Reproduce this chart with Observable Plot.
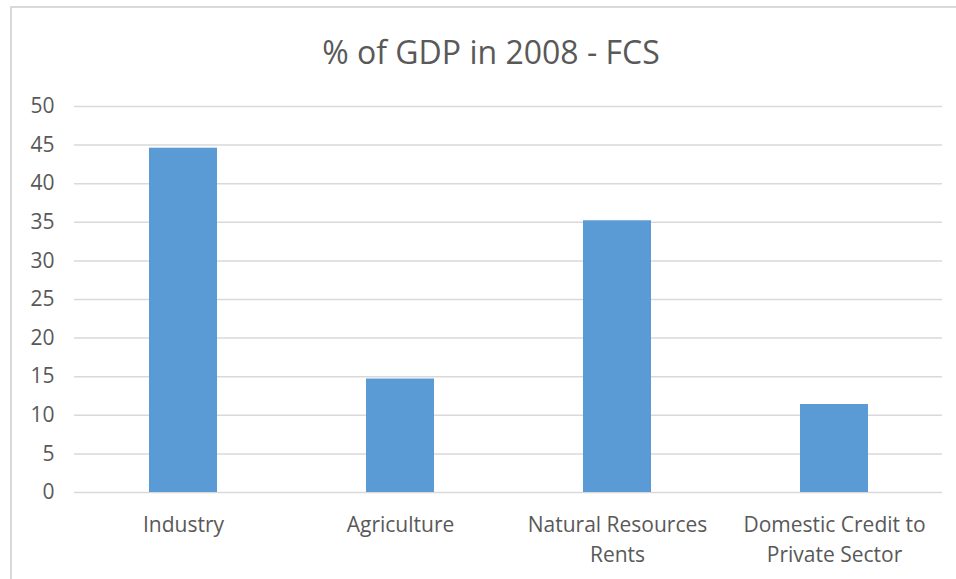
<!DOCTYPE html>
<html>
<head>
<meta charset="utf-8">
<script src="https://cdn.jsdelivr.net/npm/d3@7"></script>
<script src="https://cdn.jsdelivr.net/npm/@observablehq/plot@0.6"></script>
<style>
  html, body { margin: 0; padding: 0; background: #fff; overflow: hidden; }
  body { width: 956px; height: 579px; position: relative; font-family: "Open Sans", sans-serif; }
  #frame { position: absolute; left: 10px; top: 6px; width: 1000px; height: 1000px; border: 2px solid #d9d9d9; box-sizing: border-box; }
  #title { position: absolute; left: 0; top: 0; width: 982px; height: 90px; text-align: center; color: #595959; font-size: 32px; line-height: 104px; }
  #chart { position: absolute; left: 0; top: 90px; }
</style>
</head>
<body>
<div id="frame"></div>
<div id="title">% of GDP in 2008 - FCS</div>
<div id="chart"></div>
<script>
const categories = ["Industry", "Agriculture", "Natural Resources Rents", "Domestic Credit to Private Sector"];
const labels = ["Industry", "Agriculture", "Natural Resources\nRents", "Domestic Credit to\nPrivate Sector"];
const values = [44.6, 14.7, 35.2, 11.4];
const yTicks = [0, 5, 10, 15, 20, 25, 30, 35, 40, 45, 50];

const data = categories.map((c, i) => ({category: c, value: values[i]}));
const labelOf = new Map(categories.map((c, i) => [c, labels[i]]));

const chart = Plot.plot({
  width: 956,
  height: 489,
  marginTop: 16,
  marginBottom: 87,
  marginLeft: 74,
  marginRight: 14,
  style: {fontFamily: "Open Sans, sans-serif", fontSize: "21px", color: "#595959", background: "transparent", overflow: "visible"},
  x: {domain: categories, paddingInner: 0.687, paddingOuter: 0.3435, axis: null},
  y: {domain: [0, 50], axis: null},
  marks: [
    Plot.ruleY(yTicks, {stroke: "#d9d9d9", strokeWidth: 1.5}),
    Plot.barY(data, {x: "category", y: "value", fill: "#5b9bd5"}),
    Plot.axisY(yTicks, {tickSize: 0, tickPadding: 20, fontSize: 21, fill: "#595959", label: null}),
    Plot.axisX(categories, {tickSize: 0, tickPadding: 19, fontSize: 21, fill: "#595959", label: null, lineHeight: 1.4, tickFormat: d => labelOf.get(d)})
  ]
});
document.getElementById("chart").appendChild(chart);
</script>
</body>
</html>
